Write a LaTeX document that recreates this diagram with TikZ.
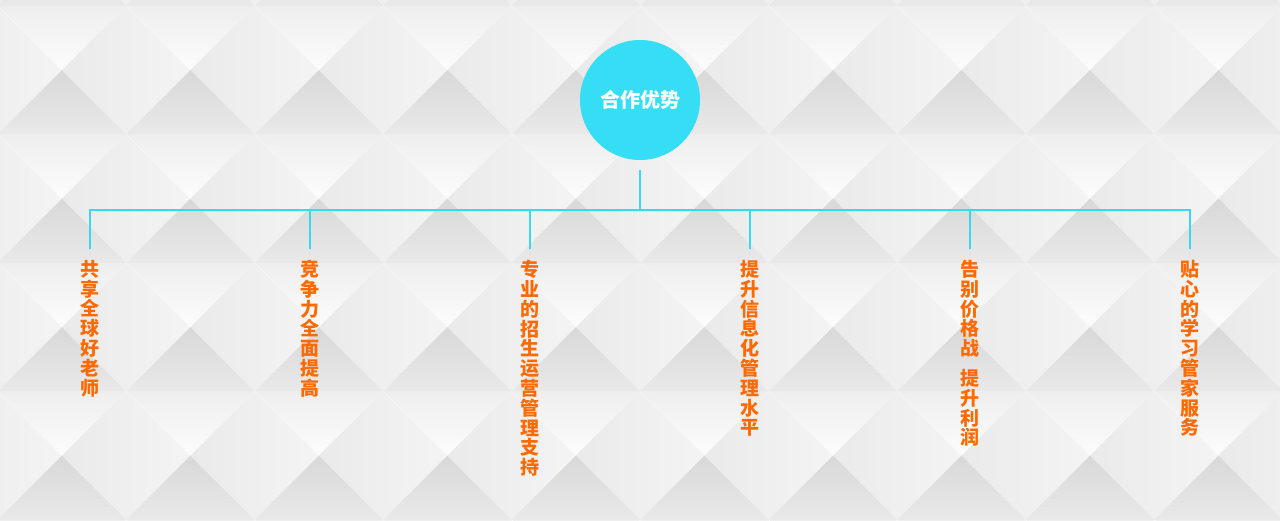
\documentclass[tikz,border=0pt]{standalone}
\usepackage{fontspec}
\newfontfamily\cjk{Noto Sans CJK SC}
\definecolor{bgc}{HTML}{EEEEEE}
\definecolor{cyanc}{HTML}{35DDF5}
\definecolor{linec}{HTML}{38D8F0}
\definecolor{orangec}{HTML}{FF6A00}
\definecolor{adark}{HTML}{D8D8D8}
\definecolor{amid}{HTML}{E9E9E9}
\definecolor{bmid}{HTML}{EEEEEE}
\definecolor{blight}{HTML}{FCFCFC}
\definecolor{cleft}{HTML}{EAEAEA}
\definecolor{cright}{HTML}{F4F4F4}
\begin{document}
\begin{tikzpicture}[x=1pt,y=-1pt,
  vtext/.style={font=\cjk\bfseries\fontsize{19}{19.8}\selectfont, text=orangec, align=center, anchor=north, inner sep=0pt},
  hubnode/.style={circle, fill=cyanc, minimum size=120pt, inner sep=0pt, font=\cjk\bfseries\fontsize{20}{20}\selectfont, text=white},
  conn/.style={draw=linec, line width=2pt}]
\useasboundingbox (0,0) rectangle (1280,520);
\fill[bgc] (0,0) rectangle (1280,520);
\begin{scope}
\clip (0,0) rectangle (1280,520);
\foreach \i in {-1,...,10}{
  \foreach \j in {-1,...,4}{
    \pgfmathsetmacro\cx{62+128.5*\i}
    \pgfmathsetmacro\cy{134.25+128.5*\j}
    \pgfmathsetmacro\bx{62+64.25+128.5*\i}
    \pgfmathsetmacro\by{70+128.5*\j}
    % type A: upper half (dark to mid)
    \shade[top color=adark, bottom color=amid] (\cx,\cy-64.25) -- (\cx+64.25,\cy) -- (\cx-64.25,\cy) -- cycle;
    % type A: lower half (mid to light)
    \shade[top color=bmid, bottom color=blight] (\cx-64.25,\cy) -- (\cx+64.25,\cy) -- (\cx,\cy+64.25) -- cycle;
    % type B: flat, slight horizontal gradient
    \shade[left color=cleft, right color=cright] (\bx,\by-64.25) -- (\bx+64.25,\by) -- (\bx,\by+64.25) -- (\bx-64.25,\by) -- cycle;
    % light edge highlights
    \draw[white, opacity=0.5, line width=0.6pt] (\cx-64.25,\cy) -- (\cx,\cy+64.25) -- (\cx+64.25,\cy);
  }
}
\end{scope}

\node[hubnode] (hub) at (640,100) {合作优势};

\coordinate (bar) at (640,210);
\coordinate (d1) at (90,249);
\coordinate (d2) at (310,249);
\coordinate (d3) at (530,249);
\coordinate (d4) at (750,249);
\coordinate (d5) at (970,249);
\coordinate (d6) at (1190,249);

\draw[conn] ([yshift=-10pt]hub.south) -- (bar);
\foreach \k in {1,...,6}{
  \draw[conn] (bar) -| (d\k);
}

\node[vtext] (t1) at (90,260) {共\\享\\全\\球\\好\\老\\师};
\node[vtext] (t2) at (310,260) {竞\\争\\力\\全\\面\\提\\高};
\node[vtext] (t3) at (530,260) {专\\业\\的\\招\\生\\运\\营\\管\\理\\支\\持};
\node[vtext] (t4) at (750,260) {提\\升\\信\\息\\化\\管\\理\\水\\平};
\node[vtext] (t5) at (970,260) {告\\别\\价\\格\\战\\[10pt]提\\升\\利\\润};
\node[vtext] (t6) at (1190,260) {贴\\心\\的\\学\\习\\管\\家\\服\\务};
\end{tikzpicture}
\end{document}
